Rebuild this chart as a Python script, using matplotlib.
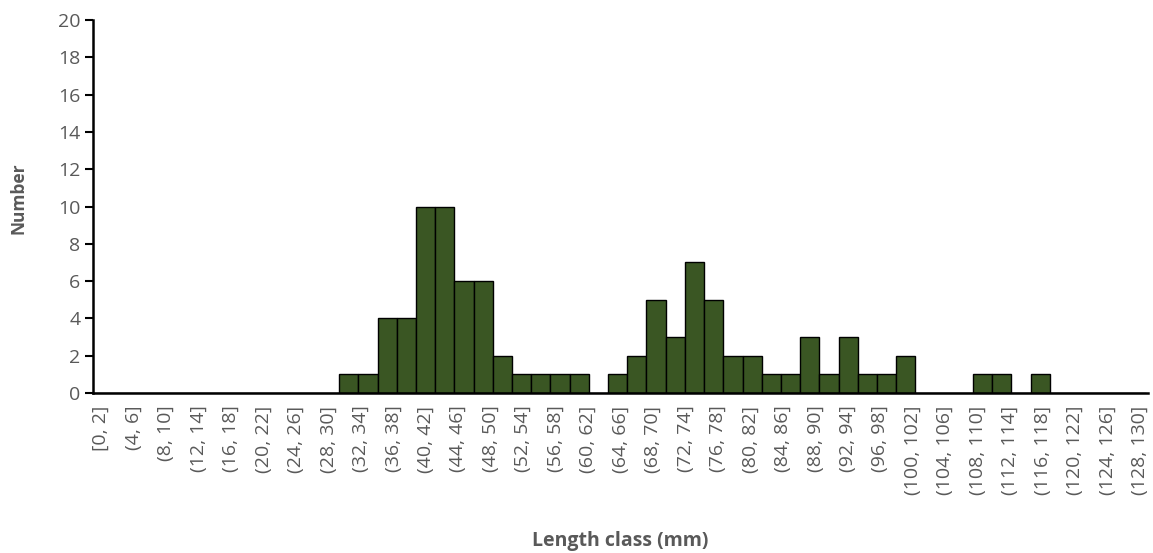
import matplotlib.pyplot as plt
import numpy as np

# class labels along the x axis (2 mm classes, every other one shown)
klassen = ['[0, 2]'] + [f'({a}, {a + 2}]' for a in range(2, 130, 2)]
rotulos = klassen[::2]

# counts per bar as drawn in the reference (55 bars)
contagens = [0] * 13 + [
    1, 1, 4, 4, 10, 10, 6, 6, 2, 1, 1, 1, 1, 0,
    1, 2, 5, 3, 7, 5, 2, 2, 1, 1, 3, 1, 3, 1, 1, 2,
    0, 0, 0, 1, 1, 0, 1,
] + [0] * 5

cinza = '#595959'
verde = '#3a5623'

plt.rcParams['font.family'] = ['Open Sans', 'DejaVu Sans']

fig = plt.figure(figsize=(11.53, 5.53), dpi=100)
ax = fig.add_axes([0.0807, 0.2893, 0.9150, 0.6745])

# category axis for the labels
pos = np.arange(len(klassen))
ax.set_xlim(-0.5, len(klassen) - 0.5)
ax.set_xticks(pos[::2])
ax.set_xticklabels(rotulos, rotation=90, va='top', ha='center', color=cinza, fontsize=14)
ax.tick_params(axis='x', length=0, pad=9)

ax.set_ylim(0, 20)
ax.set_yticks(range(0, 21, 2))
ax.tick_params(axis='y', length=6, width=1.5, colors='black', labelcolor=cinza, labelsize=14, pad=3)

for s in ['top', 'right']:
    ax.spines[s].set_visible(False)
ax.spines['left'].set_linewidth(1.8)
ax.spines['bottom'].set_linewidth(1.8)

# bars on their own index scale
ax2 = ax.twiny()
idx = np.arange(len(contagens))
ax2.bar(idx + 0.5, contagens, width=1.0, color=verde, edgecolor='black', linewidth=1.0)
ax2.set_xlim(0.19, 55.11)
ax2.set_ylim(0, 20)
ax2.axis('off')
ax2.set_zorder(1)
ax.set_zorder(2)
ax.patch.set_visible(False)

fig.text(0.538, 0.022, 'Length class (mm)', ha='center', va='center', fontsize=14, fontweight='bold', color=cinza)
fig.text(0.016, 0.642, 'Number', ha='center', va='center', rotation=90, fontsize=12.5, fontweight='bold', color=cinza)

fig.savefig('out.png', dpi=100)
